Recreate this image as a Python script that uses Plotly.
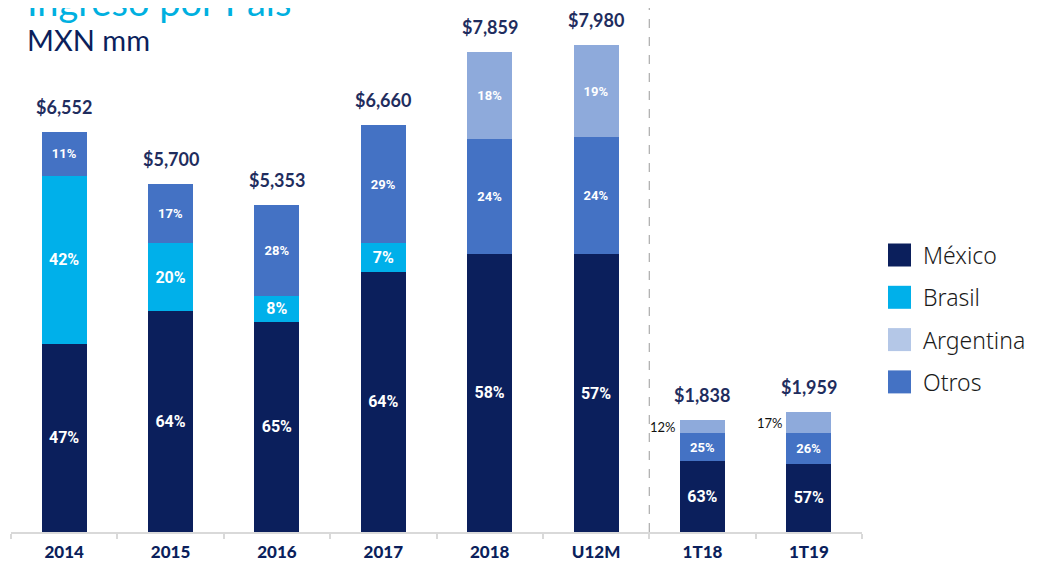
import plotly.graph_objects as go

categories = ["2014", "2015", "2016", "2017", "2018", "U12M", "1T18", "1T19"]
totals = [6552, 5700, 5353, 6660, 7859, 7980, 1838, 1959]
share_mexico = [47, 64, 65, 64, 58, 57, 63, 57]
share_brasil = [42, 20, 8, 7, 0, 0, 0, 0]
share_otros = [11, 17, 28, 29, 24, 24, 25, 26]
share_argentina = [0, 0, 0, 0, 18, 19, 12, 17]
total_labels = ["$6,552", "$5,700", "$5,353", "$6,660", "$7,859", "$7,980", "$1,838", "$1,959"]

NAVY = "#0b1f5c"
CYAN = "#00b0ea"
OTROS = "#4472c4"
ARG = "#8eaadb"
ARG_LEG = "#b4c7e7"
TXT = "#1f2d5e"

sums = [a + b + c + d for a, b, c, d in zip(share_mexico, share_brasil, share_otros, share_argentina)]

def seg(shares):
    return [t * s / tot for t, s, tot in zip(totals, shares, sums)]

def lab(shares, hide=()):
    return ["" if (s == 0 or i in hide) else f"{s}%" for i, s in enumerate(shares)]

BAR_FONT = "Roboto"
fig = go.Figure()
series = [
    ("México", share_mexico, NAVY, 16, ()),
    ("Brasil", share_brasil, CYAN, 16, ()),
    ("Otros", share_otros, OTROS, 13, ()),
    ("Argentina", share_argentina, ARG, 13, (6, 7)),
]
for name, shares, color, fs, hide in series:
    fig.add_trace(go.Bar(
        name=name, x=categories, y=seg(shares), marker=dict(color=color, line=dict(width=0)),
        text=lab(shares, hide), textposition="inside", insidetextanchor="middle",
        textangle=0, constraintext="none",
        textfont=dict(family=BAR_FONT, size=fs, color="white", weight="bold"),
        showlegend=False, hoverinfo="skip",
    ))

annotations = []
for i, (t, l) in enumerate(zip(totals, total_labels)):
    annotations.append(dict(x=i, y=t, text=l, showarrow=False, yanchor="bottom", yshift=12,
                            font=dict(family="Lato", size=18, color=TXT, weight="bold")))

# outside Argentina labels for quarterly bars
argseg = seg(share_argentina)
for i in (6, 7):
    base = totals[i] - argseg[i]
    annotations.append(dict(x=i, y=base + argseg[i] / 2, text=f"{share_argentina[i]}%",
                            showarrow=False, xanchor="right", xshift=-24,
                            font=dict(family="Lato", size=13, color="#111111")))

# page offset (body margin 8px)
OFF = 8
W, H = 1043 - OFF, 561 - OFF
L, R, T, B = 11 - OFF, 181, 10 - OFF, 29
pw, ph = W - L - R, H - T - B
def px(x): return (x - OFF - L) / pw
def py(y): return (H - B - (y - OFF)) / ph

# title + subtitle
annotations.append(dict(xref="paper", yref="paper", x=px(25), y=py(1), xanchor="left", yanchor="middle",
                        text="Ingreso por País", showarrow=False,
                        font=dict(family="Lato", size=38, color="#00b0e0")))
annotations.append(dict(xref="paper", yref="paper", x=px(25), y=py(39), xanchor="left", yanchor="middle",
                        text="MXN mm", showarrow=False,
                        font=dict(family="Lato", size=29, color=NAVY)))

# manual legend
legend_items = [("México", NAVY), ("Brasil", CYAN), ("Argentina", ARG_LEG), ("Otros", OTROS)]
shapes = []
for k, (name, color) in enumerate(legend_items):
    yc = 255 + k * 42.3
    shapes.append(dict(type="rect", xref="paper", yref="paper", x0=px(888), x1=px(911),
                       y0=py(yc + 11.5), y1=py(yc - 11.5), fillcolor=color, line=dict(width=0)))
    annotations.append(dict(xref="paper", yref="paper", x=px(921), y=py(yc), xanchor="left",
                            yanchor="middle", text=name, showarrow=False,
                            font=dict(family="Noto Sans", size=23, color="#1a1a1a", weight=300)))

# dashed separator
shapes.append(dict(type="line", xref="x", yref="paper", x0=5.5, x1=5.5, y0=0, y1=py(8),
                   line=dict(color="#9a9a9a", width=1, dash="dash")))

fig.update_layout(
    barmode="stack", bargap=0.577,
    width=W, height=H, margin=dict(l=L, r=R, t=T, b=B, autoexpand=False),
    plot_bgcolor="white", paper_bgcolor="white",
    xaxis=dict(type="category", range=[-0.5, 7.5], showline=True, linecolor="#d9d9d9", linewidth=2,
               ticks="outside", tickson="boundaries", ticklen=5, tickcolor="#d9d9d9", tickwidth=2,
               ticklabelstandoff=4, automargin=False,
               tickfont=dict(family="Lato", size=17, color=NAVY, weight=900), showgrid=False),
    yaxis=dict(visible=False, range=[0, 8550], automargin=False),
    annotations=annotations, shapes=shapes, showlegend=False,
)

fig.write_html("out.html")
